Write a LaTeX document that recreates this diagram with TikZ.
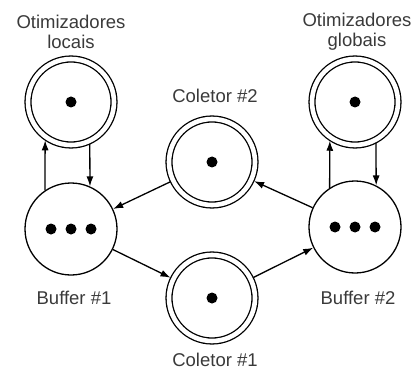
\documentclass[tikz,border=0pt]{standalone}
\usepackage{fontspec}
\setmainfont{Liberation Sans}
\usetikzlibrary{arrows.meta}
\definecolor{txt}{HTML}{3A3A3A}
\begin{document}
\begin{tikzpicture}[x=1pt,y=-1pt,line width=1.3pt,
  lbl/.style={text=txt,font=\fontsize{18.5}{20}\selectfont,align=center,inner sep=0},
  dblcirc/.style={circle,draw,double,double distance=4.6pt,minimum size=86pt,inner sep=0,outer sep=3.2pt},
  bufcirc/.style={circle,draw,minimum size=92pt,inner sep=0,outer sep=0.65pt},
  arr/.style={-{Latex[length=10pt,width=7pt]}}]
\useasboundingbox (0,0) rectangle (417,374);

% processes (double circles)
\node[dblcirc] (o1) at (71,102) {};
\node[dblcirc] (o2) at (355,102) {};
\node[dblcirc] (c2) at (212,162) {};
\node[dblcirc] (c1) at (212,298) {};
% buffers
\node[bufcirc] (b1) at (71,229) {};
\node[bufcirc] (b2) at (355,227) {};

% tokens
\foreach \n in {o1,o2,c1,c2} \fill (\n) circle (5.5);
\foreach \n in {b1,b2} {
  \fill ([xshift=-20pt]\n.center) circle (5.5);
  \fill (\n.center) circle (5.5);
  \fill ([xshift=20pt]\n.center) circle (5.5);
}

% labels
\node[lbl] (lo1) at (71,32) {Otimizadores\\locais};
\node[lbl] (lo2) at (357,32) {Otimizadores\\globais};
\node[lbl] (lc2) at (215,96) {Coletor \#2};
\node[lbl] (lc1) at (215,360) {Coletor \#1};
\node[lbl] (lb1) at (74,298) {Buffer \#1};
\node[lbl] (lb2) at (358,298) {Buffer \#2};

% connectors
\draw[arr] (b1.124) -- (o1.236);
\draw[arr] (o1.-66) -- (b1.66);
\draw[arr] (b2.123) -- (o2.237);
\draw[arr] (o2.-63) -- (b2.63);
\draw[arr] (c2) -- (b1);
\draw[arr] (b1) -- (c1);
\draw[arr] (c1) -- (b2);
\draw[arr] (b2) -- (c2);
\end{tikzpicture}
\end{document}
